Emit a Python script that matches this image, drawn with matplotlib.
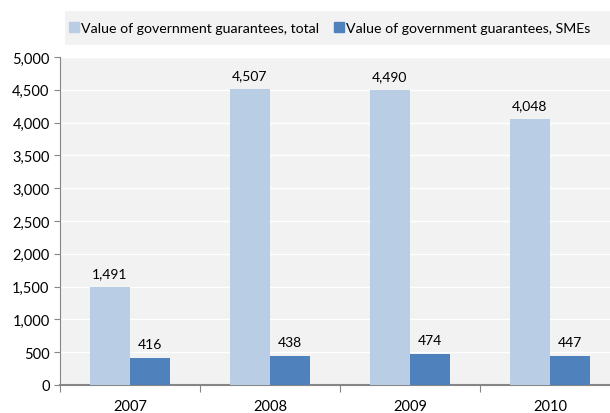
import matplotlib
matplotlib.use('Agg')
import matplotlib.pyplot as plt
import numpy as np
from matplotlib.patches import Patch

years = ['2007', '2008', '2009', '2010']
total = [1491, 4507, 4490, 4048]
smes = [416, 438, 474, 447]
labels = ['Value of government guarantees, total', 'Value of government guarantees, SMEs']

plt.rcParams['font.family'] = ['Lato', 'DejaVu Sans']

fig = plt.figure(figsize=(6.1, 4.14), dpi=100)
ax = fig.add_axes([60/610, 1-386/414, 560/610, 328/414])
ax.set_facecolor('#f2f2f2')

x = np.arange(len(years))
w = 0.286
b1 = ax.bar(x - w/2, total, w, color='#b9cde5', zorder=3)
b2 = ax.bar(x + w/2, smes, w, color='#4f81bd', zorder=3)

for r, v in zip(b1, total):
    ax.text(r.get_x() + r.get_width()/2, v + 120, f'{v:,}', ha='center', va='bottom', fontsize=10)
for r, v in zip(b2, smes):
    ax.text(r.get_x() + r.get_width()/2, v + 120, f'{v:,}', ha='center', va='bottom', fontsize=10)

ax.set_xlim(-0.5, 3.5)
ax.set_ylim(0, 5000)
ax.set_yticks(np.arange(0, 5001, 500))
ax.yaxis.set_major_formatter(matplotlib.ticker.FuncFormatter(lambda v, p: f'{int(v):,}'))
ax.grid(axis='y', color='white', linewidth=1, zorder=0)
ax.set_xticks(np.arange(-0.5, 4, 1))
ax.set_xticklabels([])
ax.set_xticks(x, minor=True)
ax.set_xticklabels(years, minor=True)
ax.tick_params(axis='x', which='minor', length=0, pad=10, labelsize=10.5)
ax.tick_params(axis='x', which='major', length=5, color='#868686', direction='out')
ax.tick_params(axis='y', length=4, color='#868686', labelsize=10.5)
for s in ['top', 'right']:
    ax.spines[s].set_visible(False)
ax.spines['left'].set_color('#868686')
ax.spines['bottom'].set_color('#868686')
ax.spines['bottom'].set_linewidth(1.5)

handles = [Patch(color='#b9cde5'), Patch(color='#4f81bd')]
leg_ax = fig.add_axes([65/610, 1-46/414, 560/610, 34/414])
leg_ax.set_facecolor('#f2f2f2')
leg_ax.set_xticks([])
leg_ax.set_yticks([])
for s in leg_ax.spines.values():
    s.set_visible(False)
leg_ax.legend(handles, labels, loc='center left', ncol=2, frameon=False, fontsize=10.2,
              handlelength=0.7, handleheight=0.7, handletextpad=0.15, columnspacing=1.0,
              borderaxespad=0.0, borderpad=0.3)

fig.savefig('out.png', dpi=100)
